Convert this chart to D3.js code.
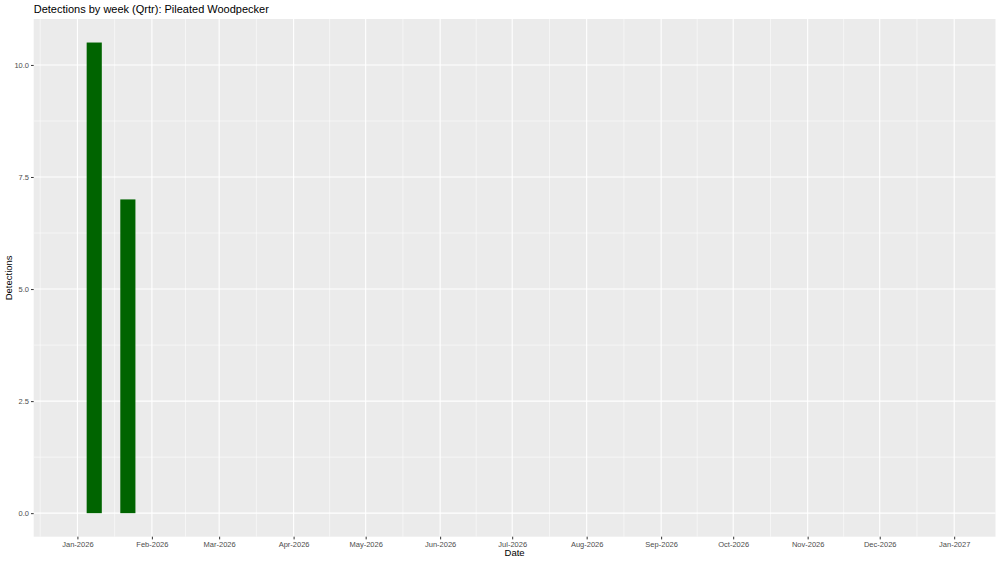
<!DOCTYPE html>
<html>
<head>
<meta charset="utf-8">
<script src="https://cdn.jsdelivr.net/npm/d3@7"></script>
<style>
  body { margin: 0; background: #fff; }
  text { font-family: "Liberation Sans", Arial, sans-serif; }
</style>
</head>
<body>
<div id="chart"></div>
<script>
// data
var weekDates = ['2026-01-08', '2026-01-22'];
var detections = [10.5, 7];
var yTicks = [0, 2.5, 5, 7.5, 10];
var monthTicks = ['2026-01-01', '2026-02-01', '2026-03-01', '2026-04-01', '2026-05-01', '2026-06-01',
  '2026-07-01', '2026-08-01', '2026-09-01', '2026-10-01', '2026-11-01', '2026-12-01', '2027-01-01'];

var svgWidth = 1000;
var svgHeight = 563;

var margin = { top: 19, right: 4.5, bottom: 26.3, left: 33.7 };
var width = svgWidth - margin.left - margin.right;
var height = svgHeight - margin.top - margin.bottom;

var parse = d3.utcParse('%Y-%m-%d');
var DAY = 86400000;

var svg = d3.select('#chart').append('svg')
  .attr('width', svgWidth)
  .attr('height', svgHeight);

svg.append('rect').attr('width', svgWidth).attr('height', svgHeight).attr('fill', '#fff');

var chartGroup = svg.append('g')
  .attr('transform', `translate(${margin.left}, ${margin.top})`);

// x limits: Jan 1 – Dec 31 2026 with ggplot style 5% expansion
var xLo = parse('2026-01-01').getTime();
var xHi = parse('2026-12-31').getTime();
var xPad = (xHi - xLo) * 0.05;
var xScale = d3.scaleUtc()
  .domain([new Date(xLo - xPad), new Date(xHi + xPad)])
  .range([0, width]);

var yMax = d3.max(detections);
var yScale = d3.scaleLinear()
  .domain([-yMax * 0.05, yMax * 1.05])
  .range([height, 0]);

// panel
chartGroup.append('rect')
  .attr('width', width)
  .attr('height', height)
  .attr('fill', '#ebebeb');

// minor grid
var monthDates = monthTicks.map(parse);
var xMinor = [];
var allMonths = [parse('2025-12-01')].concat(monthDates);
for (var i = 0; i < allMonths.length - 1; i++) {
  xMinor.push(new Date((allMonths[i].getTime() + allMonths[i + 1].getTime()) / 2));
}
var yMinor = [];
for (var j = 0; j < yTicks.length - 1; j++) {
  yMinor.push((yTicks[j] + yTicks[j + 1]) / 2);
}

chartGroup.selectAll('.xminor').data(xMinor.filter(d => xScale(d) >= 0 && xScale(d) <= width))
  .enter().append('line')
  .attr('x1', d => xScale(d)).attr('x2', d => xScale(d))
  .attr('y1', 0).attr('y2', height)
  .attr('stroke', '#fff').attr('stroke-width', 0.55);

chartGroup.selectAll('.yminor').data(yMinor)
  .enter().append('line')
  .attr('y1', d => yScale(d)).attr('y2', d => yScale(d))
  .attr('x1', 0).attr('x2', width)
  .attr('stroke', '#fff').attr('stroke-width', 0.55);

// major grid
chartGroup.selectAll('.xmajor').data(monthDates)
  .enter().append('line')
  .attr('x1', d => xScale(d)).attr('x2', d => xScale(d))
  .attr('y1', 0).attr('y2', height)
  .attr('stroke', '#fff').attr('stroke-width', 1.1);

chartGroup.selectAll('.ymajor').data(yTicks)
  .enter().append('line')
  .attr('y1', d => yScale(d)).attr('y2', d => yScale(d))
  .attr('x1', 0).attr('x2', width)
  .attr('stroke', '#fff').attr('stroke-width', 1.1);

// bars
var barWidth = 6.3 * DAY;
chartGroup.selectAll('.bar').data(weekDates.map((d, k) => ({ date: parse(d), value: detections[k] })))
  .enter().append('rect')
  .attr('x', d => xScale(new Date(d.date.getTime() - barWidth / 2)))
  .attr('width', d => xScale(new Date(d.date.getTime() + barWidth / 2)) - xScale(new Date(d.date.getTime() - barWidth / 2)))
  .attr('y', d => yScale(d.value))
  .attr('height', d => yScale(0) - yScale(d.value))
  .attr('fill', '#006400');

// axes
var xAxis = d3.axisBottom(xScale)
  .tickValues(monthDates)
  .tickFormat(d3.utcFormat('%b-%Y'))
  .tickSize(2.7)
  .tickPadding(2);

var yAxis = d3.axisLeft(yScale)
  .tickValues(yTicks)
  .tickFormat(d3.format('.1f'))
  .tickSize(2.7)
  .tickPadding(2);

var gx = chartGroup.append('g')
  .attr('transform', `translate(0, ${height})`)
  .call(xAxis);
var gy = chartGroup.append('g').call(yAxis);

[gx, gy].forEach(function(g) {
  g.select('.domain').remove();
  g.selectAll('.tick line').attr('stroke', '#333').attr('stroke-width', 1);
  g.selectAll('.tick text')
    .attr('fill', '#4d4d4d')
    .style('font-size', '7.5px')
    .style('font-family', '"Liberation Sans", Arial, sans-serif');
});

// titles
svg.append('text')
  .attr('x', margin.left)
  .attr('y', 13)
  .attr('font-size', '11px')
  .attr('fill', '#000')
  .text('Detections by week (Qrtr): Pileated Woodpecker');

svg.append('text')
  .attr('x', margin.left + width / 2)
  .attr('y', 556)
  .attr('text-anchor', 'middle')
  .attr('font-size', '9.5px')
  .attr('fill', '#000')
  .text('Date');

svg.append('text')
  .attr('transform', `translate(12, ${margin.top + height / 2}) rotate(-90)`)
  .attr('text-anchor', 'middle')
  .attr('font-size', '9.5px')
  .attr('fill', '#000')
  .text('Detections');
</script>
</body>
</html>
